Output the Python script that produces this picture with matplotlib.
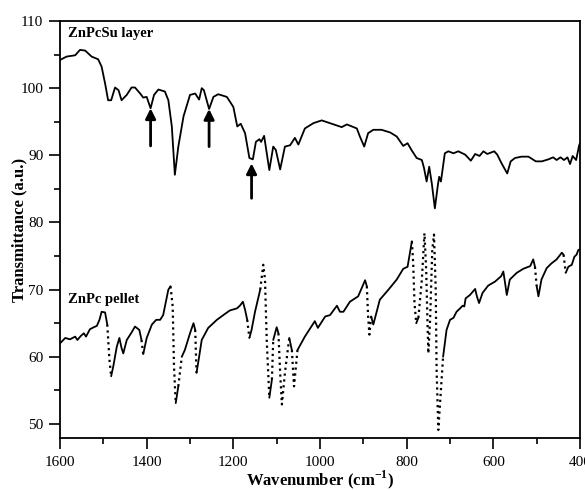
"""
FTIR spectra: ZnPcSu layer vs ZnPc pellet
"""
import numpy as np
import matplotlib
matplotlib.use('Agg')
import matplotlib.pyplot as plt
from matplotlib.ticker import MultipleLocator

plt.rcParams['font.family'] = ['Liberation Serif', 'DejaVu Serif']
plt.rcParams['mathtext.fontset'] = 'custom'
plt.rcParams['mathtext.rm'] = 'Liberation Serif'
plt.rcParams['mathtext.bf'] = 'Liberation Serif:bold'

# ZnPcSu layer
layer_wn = [1600, 1585, 1565, 1554, 1542, 1527, 1512, 1504, 1496, 1489, 1482, 1473,
            1465, 1458, 1446, 1435, 1427, 1415, 1408, 1400, 1391, 1383, 1373, 1358,
            1350, 1342, 1335, 1327, 1315, 1300, 1288, 1279, 1273, 1268, 1256, 1246,
            1235, 1215, 1200, 1191, 1183, 1173, 1163, 1155, 1148, 1140, 1136, 1129,
            1117, 1108, 1102, 1092, 1081, 1069, 1058, 1050, 1035, 1015, 996, 973,
            950, 938, 915, 908, 898, 889, 877, 858, 838, 823, 808, 798, 789, 777,
            765, 760, 754, 748, 742, 735, 728, 725, 721, 712, 704, 692, 681, 665,
            652, 642, 632, 623, 614, 598, 591, 581, 568, 560, 550, 535, 519, 502,
            488, 473, 462, 454, 445, 437, 429, 423, 417, 409, 402, 400]
layer_t = [104.2, 104.7, 104.9, 105.7, 105.6, 104.7, 104.3, 103.2, 100.7, 98.2, 98.2, 100.1,
           99.7, 98.2, 99.0, 100.1, 100.1, 99.2, 98.6, 98.7, 97.0, 99.0, 99.8, 99.5,
           98.2, 94.3, 87.1, 91.3, 95.8, 99.0, 99.2, 98.3, 100.0, 99.7, 96.9, 98.7,
           99.1, 98.7, 97.2, 94.3, 94.7, 93.3, 89.6, 89.4, 92.0, 92.4, 92.0, 92.9,
           87.8, 91.3, 90.8, 87.9, 91.3, 91.5, 92.6, 91.6, 94.0, 94.8, 95.2, 94.7,
           94.2, 94.6, 94.0, 92.8, 91.3, 93.3, 93.8, 93.8, 93.4, 92.8, 91.4, 91.8, 90.8, 89.6,
           89.3, 88.1, 86.1, 88.3, 85.8, 82.1, 85.6, 86.8, 86.1, 90.3, 90.6, 90.3, 90.6, 90.1,
           89.2, 90.2, 89.9, 90.6, 90.2, 90.6, 90.1, 88.8, 87.3, 89.1, 89.6, 89.8, 89.8, 89.1,
           89.1, 89.4, 89.7, 89.3, 89.7, 89.3, 89.7, 88.7, 89.9, 89.3, 91.5, 91.8]

# ZnPc pellet
pellet_wn = [1600, 1588, 1577, 1565, 1560, 1552, 1545, 1540, 1531, 1522, 1515, 1509,
             1504, 1496, 1491, 1486, 1482, 1477, 1469, 1463, 1458, 1454, 1446, 1435,
             1427, 1417, 1412, 1408, 1400, 1388, 1378, 1369, 1362, 1350, 1345, 1340,
             1337, 1333, 1327, 1319, 1312, 1300, 1292, 1288, 1285, 1279, 1273, 1258,
             1238, 1219, 1208, 1192, 1185, 1178, 1173, 1168, 1163, 1158, 1150, 1138,
             1131, 1127, 1123, 1117, 1111, 1108, 1100, 1096, 1092, 1088, 1081, 1071,
             1065, 1060, 1052, 1035, 1012, 1005, 988, 977, 961, 954, 946, 931, 912,
             896, 892, 889, 886, 882, 877, 862, 842, 823, 808, 798, 788, 785, 782,
             778, 773, 765, 759, 755, 752, 750, 746, 741, 737, 733, 731, 727, 722,
             716, 708, 700, 692, 685, 677, 671, 667, 664, 654, 642, 638, 633, 625,
             612, 596, 582, 577, 573, 569, 562, 546, 531, 515, 508, 504, 500, 496,
             489, 477, 466, 454, 442, 438, 433, 427, 419, 413, 408, 404, 400]
pellet_t = [62.0, 62.8, 62.6, 63.0, 62.5, 63.1, 63.5, 63.0, 64.1, 64.4, 64.6, 65.5,
            66.7, 66.6, 64.8, 59.6, 57.1, 58.6, 61.5, 62.8, 61.3, 60.5, 62.5, 63.6,
            64.5, 64.0, 62.5, 60.4, 62.8, 64.8, 65.5, 65.5, 66.2, 70.0, 70.5, 67.5,
            58.6, 53.1, 55.6, 60.0, 61.0, 63.5, 65.0, 64.0, 57.6, 60.0, 62.5, 64.3,
            65.5, 66.4, 66.9, 67.2, 67.6, 68.2, 67.0, 65.5, 62.8, 64.0, 66.7, 70.0,
            73.7, 71.5, 62.5, 53.9, 56.6, 62.5, 64.4, 63.5, 57.6, 52.9, 57.6, 62.8,
            61.0, 55.6, 61.0, 63.0, 65.3, 64.3, 66.0, 66.2, 67.6, 66.7, 66.7, 68.2, 69.0,
            71.4, 70.5, 66.0, 63.3, 66.0, 64.8, 68.5, 70.0, 71.5, 73.1, 73.4, 77.2, 73.9, 68.0,
            65.0, 65.8, 71.5, 78.4, 72.9, 65.0, 60.5, 65.5, 75.9, 78.2, 70.0, 58.1, 49.1, 54.1,
            60.0, 64.0, 65.5, 65.8, 66.7, 67.2, 67.6, 67.5, 68.7, 69.2, 70.1, 69.0, 68.0, 69.5,
            70.6, 71.2, 72.0, 72.7, 71.0, 69.2, 71.5, 72.5, 73.1, 73.5, 74.5, 73.4, 70.5, 69.0,
            71.5, 73.2, 73.9, 74.5, 75.5, 75.2, 72.5, 73.4, 73.7, 74.9, 75.2, 75.9, 76.0]

# arrows on the layer spectrum: (wavenumber, tail, tip)
arrow_wn = [1391, 1256, 1158]
arrow_tail = [91.4, 91.3, 83.6]
arrow_tip = [97.0, 96.9, 88.8]


def plot_dotted_steep(ax, x, y, slope_limit=0.5):
    """Solid line, but steep segments drawn dotted like the original scan"""
    x = np.asarray(x, float)
    y = np.asarray(y, float)
    slope = np.abs(np.diff(y) / np.diff(x))
    steep = slope > slope_limit
    start = 0
    for i in range(1, len(steep) + 1):
        if i == len(steep) or steep[i] != steep[start]:
            style = ':' if steep[start] else '-'
            lw = 1.6 if steep[start] else 1.3
            ax.plot(x[start:i + 1], y[start:i + 1], color='black', linestyle=style,
                    linewidth=lw, solid_capstyle='round')
            start = i


fig = plt.figure(figsize=(5.85, 4.9), dpi=100)
ax = fig.add_axes([0.1026, 0.1061, 0.8889, 0.8510])

ax.plot(layer_wn, layer_t, color='black', linewidth=1.3)
plot_dotted_steep(ax, pellet_wn, pellet_t)

for wn, tail, tip in zip(arrow_wn, arrow_tail, arrow_tip):
    ax.annotate('', xy=(wn, tip), xytext=(wn, tail),
                arrowprops=dict(arrowstyle='-|>', color='black', lw=2.0,
                                mutation_scale=15, shrinkA=0, shrinkB=0))

ax.text(1582, 108.2, 'ZnPcSu layer', fontsize=10.5, fontweight='bold', va='center')
ax.text(1582, 68.6, 'ZnPc pellet', fontsize=10.5, fontweight='bold', va='center')

ax.set_xlim(1600, 400)
ax.set_ylim(47.9, 110)
ax.xaxis.set_major_locator(MultipleLocator(200))
ax.xaxis.set_minor_locator(MultipleLocator(100))
ax.yaxis.set_minor_locator(MultipleLocator(5))
ax.set_yticks(np.arange(50, 111, 10))
ax.tick_params(which='both', direction='out', top=False, right=False, labelsize=11, width=1.2)
ax.tick_params(which='major', length=8)
ax.tick_params(which='minor', length=4)
ax.tick_params(axis='x', which='major', pad=5)
ax.tick_params(axis='y', which='major', pad=4)
for sp in ax.spines.values():
    sp.set_linewidth(1.3)

ax.set_xlabel(r'Wavenumber (cm$^{\mathbf{-1}}$)', fontsize=12, fontweight='bold', va='baseline')
ax.xaxis.set_label_coords(0.5, -0.112)
ax.set_ylabel('Transmittance (a.u.)', fontsize=12, fontweight='bold', va='baseline')
ax.yaxis.set_label_coords(-0.071, 0.5)

fig.savefig('out.png', dpi=100)
